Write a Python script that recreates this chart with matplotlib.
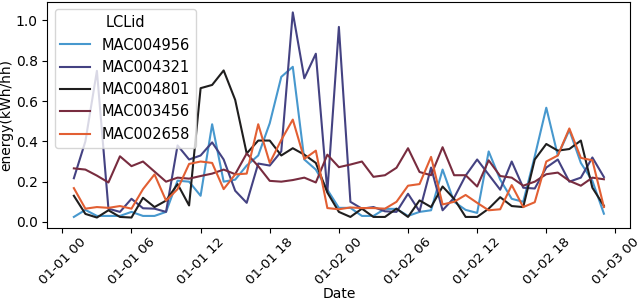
import pandas as pd
import seaborn as sns
import matplotlib.pyplot as plt
import matplotlib.dates as mdates

plt.rcParams['font.size'] = 10

# hourly readings, 2013-01-01 01:00 .. 2013-01-02 23:00
dates = pd.date_range('2013-01-01 01:00', '2013-01-02 23:00', freq='h')

lclids = ['MAC004956', 'MAC004321', 'MAC004801', 'MAC003456', 'MAC002658']

mac004956 = [0.025, 0.06, 0.03, 0.03, 0.03, 0.05, 0.03, 0.03, 0.05, 0.205,
             0.2, 0.13, 0.485, 0.2, 0.21, 0.28, 0.33, 0.49, 0.72, 0.77,
             0.31, 0.26, 0.16, 0.07, 0.07, 0.03, 0.03, 0.065, 0.065, 0.03,
             0.05, 0.058, 0.26, 0.1, 0.06, 0.045, 0.35, 0.21, 0.115, 0.1,
             0.326, 0.567, 0.33, 0.456, 0.293, 0.204, 0.041]
mac004321 = [0.217, 0.4, 0.75, 0.066, 0.05, 0.115, 0.068, 0.066, 0.05, 0.38,
             0.31, 0.33, 0.395, 0.31, 0.155, 0.095, 0.29, 0.28, 0.35, 1.04,
             0.713, 0.835, 0.15, 0.968, 0.1, 0.066, 0.074, 0.053, 0.05, 0.14,
             0.053, 0.27, 0.058, 0.12, 0.23, 0.31, 0.235, 0.16, 0.3, 0.17,
             0.166, 0.27, 0.31, 0.2, 0.22, 0.32, 0.223]
mac004801 = [0.13, 0.04, 0.022, 0.058, 0.025, 0.022, 0.12, 0.074, 0.106, 0.188,
             0.082, 0.664, 0.68, 0.752, 0.606, 0.34, 0.404, 0.404, 0.33, 0.366,
             0.334, 0.293, 0.146, 0.05, 0.025, 0.066, 0.025, 0.025, 0.066, 0.025,
             0.107, 0.074, 0.176, 0.115, 0.025, 0.025, 0.066, 0.123, 0.079, 0.074,
             0.31, 0.387, 0.354, 0.362, 0.404, 0.17, 0.08]
mac003456 = [0.266, 0.26, 0.23, 0.196, 0.326, 0.277, 0.3, 0.25, 0.2, 0.22,
             0.215, 0.228, 0.24, 0.26, 0.237, 0.34, 0.277, 0.204, 0.2, 0.208,
             0.22, 0.196, 0.334, 0.272, 0.285, 0.3, 0.224, 0.232, 0.269, 0.366,
             0.248, 0.232, 0.371, 0.232, 0.232, 0.176, 0.306, 0.228, 0.22, 0.18,
             0.2, 0.237, 0.245, 0.204, 0.18, 0.22, 0.212]
mac002658 = [0.168, 0.066, 0.074, 0.07, 0.079, 0.066, 0.163, 0.236, 0.106, 0.163,
             0.288, 0.3, 0.293, 0.163, 0.236, 0.24, 0.485, 0.293, 0.407, 0.508,
             0.313, 0.354, 0.069, 0.063, 0.072, 0.069, 0.069, 0.066, 0.1, 0.18,
             0.188, 0.323, 0.087, 0.1, 0.134, 0.095, 0.058, 0.063, 0.183, 0.074,
             0.098, 0.3, 0.33, 0.464, 0.318, 0.306, 0.074]

series = [mac004956, mac004321, mac004801, mac003456, mac002658]

colors = sns.color_palette('icefire', len(lclids))

fig, ax = plt.subplots(figsize=(6.4, 3.07), dpi=100)
for name, vals, c in zip(lclids, series, colors):
    ax.plot(dates, vals, color=c, label=name, linewidth=1.5)

ax.xaxis.set_major_locator(mdates.HourLocator(byhour=range(0, 24, 6)))
ax.xaxis.set_major_formatter(mdates.DateFormatter('%m-%d %H'))
ax.tick_params(axis='x', pad=2)
plt.setp(ax.get_xticklabels(), rotation=45, fontsize=9.7)

ax.set_xlabel('Date', labelpad=0)
ax.set_ylabel('energy(kWh/hh)', labelpad=2)
ax.legend(title='LCLid', loc='upper left', fontsize=10.5, title_fontsize=10.5,
          labelspacing=0.5)

plt.subplots_adjust(left=0.074, right=0.985, top=0.993, bottom=0.258)
plt.savefig('out.png', dpi=100)
